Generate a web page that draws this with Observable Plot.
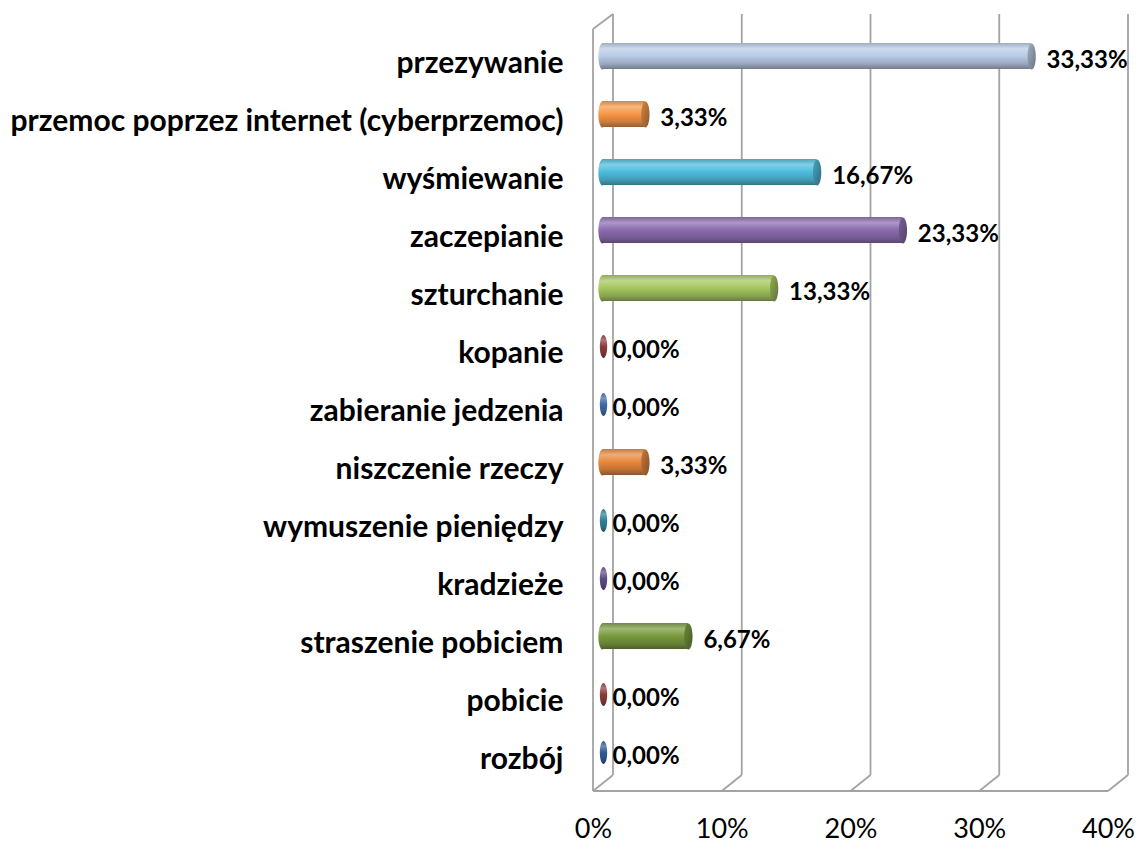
<!DOCTYPE html>
<html>
<head>
<meta charset="utf-8">
<script src="https://cdn.jsdelivr.net/npm/d3@7"></script>
<script src="https://cdn.jsdelivr.net/npm/@observablehq/plot@0.6"></script>
<style>
  html, body { margin: 0; padding: 0; background: #ffffff; }
  #chart svg { display: block; }
</style>
</head>
<body>
<div id="chart"></div>
<script>
const categories = [
  "przezywanie",
  "przemoc poprzez internet (cyberprzemoc)",
  "wyśmiewanie",
  "zaczepianie",
  "szturchanie",
  "kopanie",
  "zabieranie jedzenia",
  "niszczenie rzeczy",
  "wymuszenie pieniędzy",
  "kradzieże",
  "straszenie pobiciem",
  "pobicie",
  "rozbój"
];
const values = [33.33, 3.33, 16.67, 23.33, 13.33, 0, 0, 3.33, 0, 0, 6.67, 0, 0];
const barColors = ["#b9cbe6", "#f79646", "#4bbcdc", "#8a6bb0", "#a5c75d", "#8c3a3a", "#3d6aa2",
                   "#e8873b", "#2f8097", "#5f4b88", "#789a3c", "#8c3a3a", "#2e5a96"];
const xTicks = [0, 10, 20, 30, 40];

const data = categories.map((cat, i) => ({cat, value: values[i], i}));
const nonzero = data.filter(d => d.value > 0);
const zeros = data.filter(d => d.value === 0);

const fmt = v => v.toFixed(2).replace(".", ",") + "%";

// ellipse symbol for cylinder ends
const ellipse = {
  draw(ctx, size) {
    const r = Math.sqrt(size / Math.PI);
    const ry = r, rx = r * 0.32, k = 0.5523;
    ctx.moveTo(rx, 0);
    ctx.bezierCurveTo(rx, ry * k, rx * k, ry, 0, ry);
    ctx.bezierCurveTo(-rx * k, ry, -rx, ry * k, -rx, 0);
    ctx.bezierCurveTo(-rx, -ry * k, -rx * k, -ry, 0, -ry);
    ctx.bezierCurveTo(rx * k, -ry, rx, -ry * k, rx, 0);
    ctx.closePath();
  }
};

// gradient defs
function defsMark() {
  const defs = d3.create("svg:defs");
  barColors.forEach((c, i) => {
    const base = d3.color(c);
    const light = d3.interpolateRgb(c, "#ffffff")(0.3);
    const edge = d3.interpolateRgb(c, "#555555")(0.25);
    const dark = d3.interpolateRgb(c, "#1a1a1a")(0.45);
    const g = defs.append("linearGradient").attr("id", "g" + i)
      .attr("x1", 0).attr("y1", 0).attr("x2", 0).attr("y2", 1);
    [[0, edge], [0.22, light], [0.5, base.formatHex()], [0.8, d3.interpolateRgb(c, "#1a1a1a")(0.2)], [1, dark]]
      .forEach(([o, col]) => g.append("stop").attr("offset", o).attr("stop-color", col));
    const gc = defs.append("linearGradient").attr("id", "c" + i)
      .attr("x1", 0).attr("y1", 0).attr("x2", 1).attr("y2", 1);
    [[0, d3.interpolateRgb(c, "#1a1a1a")(0.15)], [1, d3.interpolateRgb(c, "#1a1a1a")(0.5)]]
      .forEach(([o, col]) => gc.append("stop").attr("offset", o).attr("stop-color", col));
  });
  return defs.node();
}

const DX = 20, DY = 16;   // 3D depth offset of back wall

function frameMark(index, scales, values, dims) {
  const x = scales.x;
  const top = dims.marginTop - 4;
  const bottom = dims.height - dims.marginBottom;
  const g = d3.create("svg:g")
    .attr("fill", "none").attr("stroke", "#a3a3a3").attr("stroke-width", 1.8);
  const seg = (x1, y1, x2, y2) => g.append("line")
    .attr("x1", x1).attr("y1", y1).attr("x2", x2).attr("y2", y2);
  xTicks.forEach(t => {
    seg(x(t) + DX, top - DY + 1, x(t) + DX, bottom - DY);   // back wall gridline
    seg(x(t), bottom, x(t) + DX, bottom - DY);              // floor diagonal
  });
  seg(x(0), bottom, x(40), bottom);                         // floor front edge
  seg(x(0), top, x(0), bottom);                             // side wall front edge
  seg(x(0), top, x(0) + DX, top - DY + 1);                  // side wall top edge
  return g.node();
}

const BDX = 9, BDY = -8;  // bar depth offset (middle of the depth)

const chart = Plot.plot({
  width: 1141,
  height: 846,
  marginTop: 33,
  marginBottom: 55,
  marginLeft: 0,
  marginRight: 0,
  x: {domain: [0, 40], range: [593, 1108], axis: null},
  y: {domain: categories, padding: 0, axis: null},
  color: {type: "identity"},
  style: {fontFamily: "Lato, 'Open Sans', sans-serif", background: "#ffffff"},
  marks: [
    defsMark,
    frameMark,
    // left rounded start of cylinders
    Plot.dot(nonzero, {x: d => 0, y: "cat", r: 13, symbol: ellipse,
      fill: d => `url(#g${d.i})`, stroke: "none", dx: BDX, dy: BDY}),
    // cylinder bodies
    Plot.barX(nonzero, {x: "value", y: "cat", fill: d => `url(#g${d.i})`,
      insetTop: 16, insetBottom: 16, dx: BDX, dy: BDY}),
    // right caps
    Plot.dot(nonzero, {x: "value", y: "cat", r: 13, symbol: ellipse,
      fill: d => `url(#c${d.i})`, stroke: "none", dx: BDX, dy: BDY}),
    // zero-value discs
    Plot.dot(zeros, {x: "value", y: "cat", r: 11.5, symbol: ellipse,
      fill: d => `url(#g${d.i})`, stroke: "none", dx: BDX + 1, dy: BDY}),
    // value labels
    Plot.text(nonzero, {x: "value", y: "cat", text: d => fmt(d.value),
      textAnchor: "start", dx: 24, dy: -4, fontSize: 24, fontWeight: "bold", fill: "#000"}),
    Plot.text(zeros, {x: "value", y: "cat", text: d => fmt(d.value),
      textAnchor: "start", dx: 19, dy: -4, fontSize: 24, fontWeight: "bold", fill: "#000"}),
    // category labels
    Plot.text(data, {x: d => 0, y: "cat", text: "cat", textAnchor: "end",
      dx: -30, dy: -1, fontSize: 30, fontWeight: "bold", fill: "#000"}),
    // x tick labels
    Plot.text(xTicks, {x: d => d, text: d => d + "%", frameAnchor: "bottom",
      dy: 46, fontSize: 27, fill: "#000"})
  ]
});

document.getElementById("chart").appendChild(chart);
</script>
</body>
</html>
